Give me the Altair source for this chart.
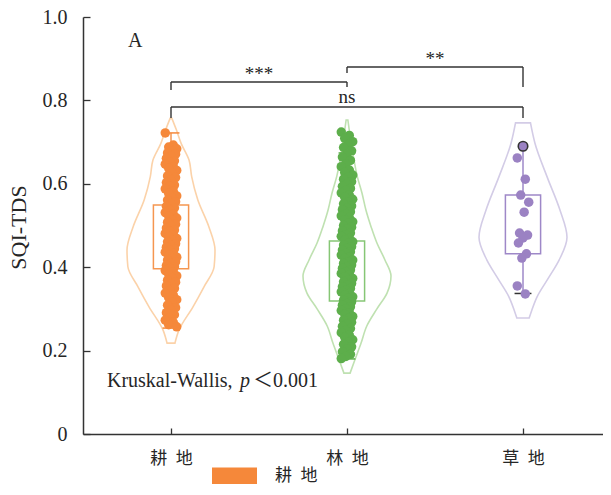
import altair as alt
import pandas as pd

FONT = "Liberation Serif, Noto Sans CJK SC"
INK = "#262626"
LINE = "#333333"
EN = "\u2002"

# ---------------- data ----------------
groups = ["耕地", "林地", "草地"]
centers = [0.5, 1.5, 2.5]

point_colors = ["#F5883A", "#5DAE4B", "#9B82C3"]
violin_colors = ["#FBD2A9", "#BFE1B1", "#D3CCE6"]
box_colors = ["#F59650", "#86C675", "#9E88C8"]
cap_colors = ["#F5883A", "#5DAE4B", "#333333"]

# violin outlines: value levels and relative density (1 = widest)
farm_vlev = [0.218, 0.249, 0.305, 0.353, 0.401, 0.441, 0.497, 0.561, 0.617, 0.657, 0.697, 0.730, 0.757]
farm_dens = [0.09, 0.18, 0.50, 0.75, 0.98, 1.00, 0.86, 0.61, 0.47, 0.41, 0.23, 0.12, 0.02]
forest_vlev = [0.146, 0.178, 0.218, 0.259, 0.300, 0.338, 0.379, 0.418, 0.458, 0.496, 0.537, 0.578,
               0.619, 0.657, 0.700, 0.730, 0.753]
forest_dens = [0.07, 0.18, 0.32, 0.45, 0.68, 0.91, 1.00, 0.86, 0.68, 0.55, 0.43, 0.34,
               0.23, 0.16, 0.09, 0.05, 0.02]
grass_vlev = [0.278, 0.297, 0.329, 0.376, 0.417, 0.472, 0.537, 0.616, 0.698, 0.746]
grass_dens = [0.14, 0.20, 0.32, 0.59, 0.82, 1.00, 0.84, 0.55, 0.27, 0.17]

farm_points = [0.722, 0.693, 0.688, 0.684, 0.679, 0.674, 0.671, 0.666, 0.661, 0.655, 0.652, 0.647,
               0.641, 0.637, 0.632, 0.626, 0.619, 0.615, 0.610, 0.603, 0.597, 0.594, 0.588, 0.582,
               0.577, 0.571, 0.566, 0.561, 0.557, 0.551, 0.546, 0.542, 0.537, 0.531, 0.527, 0.522,
               0.518, 0.512, 0.508, 0.503, 0.499, 0.494, 0.489, 0.486, 0.481, 0.477, 0.473, 0.469,
               0.464, 0.461, 0.456, 0.452, 0.448, 0.444, 0.441, 0.436, 0.433, 0.429, 0.424, 0.421,
               0.417, 0.413, 0.409, 0.404, 0.401, 0.397, 0.392, 0.388, 0.383, 0.379, 0.374, 0.369,
               0.364, 0.359, 0.355, 0.349, 0.344, 0.338, 0.333, 0.327, 0.322, 0.316, 0.309, 0.303,
               0.298, 0.291, 0.286, 0.279, 0.273, 0.268, 0.262, 0.257]
forest_points = [0.724, 0.716, 0.709, 0.701, 0.694, 0.687, 0.679, 0.671, 0.664, 0.656, 0.648, 0.641,
                 0.633, 0.627, 0.621, 0.616, 0.611, 0.605, 0.600, 0.594, 0.589, 0.584, 0.578, 0.573,
                 0.568, 0.563, 0.557, 0.552, 0.547, 0.542, 0.538, 0.533, 0.528, 0.523, 0.519, 0.514,
                 0.509, 0.505, 0.500, 0.496, 0.491, 0.487, 0.482, 0.478, 0.474, 0.469, 0.465, 0.461,
                 0.457, 0.453, 0.449, 0.445, 0.441, 0.437, 0.433, 0.429, 0.425, 0.421, 0.417, 0.413,
                 0.409, 0.405, 0.401, 0.397, 0.393, 0.389, 0.385, 0.381, 0.377, 0.373, 0.369, 0.365,
                 0.361, 0.357, 0.353, 0.349, 0.345, 0.341, 0.337, 0.333, 0.329, 0.325, 0.321, 0.317,
                 0.313, 0.309, 0.305, 0.300, 0.296, 0.291, 0.287, 0.282, 0.277, 0.273, 0.268, 0.263,
                 0.258, 0.253, 0.248, 0.243, 0.237, 0.232, 0.226, 0.221, 0.215, 0.209, 0.203, 0.197,
                 0.191, 0.186, 0.181]
grass_points = [0.662, 0.611, 0.573, 0.556, 0.532, 0.482, 0.477, 0.470, 0.458, 0.432, 0.422,
                0.355, 0.336]
grass_outliers = [0.690]

q1 = [0.396, 0.319, 0.432]
q3 = [0.549, 0.463, 0.573]
w_low = [0.254, 0.180, 0.337]
w_high = [0.722, 0.674, 0.690]
has_top_cap = [True, True, False]

y_ticks = [0, 0.2, 0.4, 0.6, 0.8, 1.0]

br_x1 = [0.5, 1.5, 0.5]
br_x2 = [1.5, 2.5, 2.5]
br_top = [0.844, 0.880, 0.784]
br_left_end = [0.825, 0.866, 0.758]
br_right_end = [0.832, 0.832, 0.758]
br_label = ["***", "**", "ns"]
br_label_y = [0.849, 0.885, 0.794]

kw_parts = ["Kruskal-Wallis,", "p", "＜0.001"]
panel_label = "A"

# ---------------- tables ----------------
violin_src = [(farm_vlev, farm_dens), (forest_vlev, forest_dens), (grass_vlev, grass_dens)]
vrows = []
for g, c, col, (lev, den) in zip(groups, centers, violin_colors, violin_src):
    for v, d in zip(lev, den):
        vrows.append({"group": g, "center": c, "v": v, "d": d, "col": col})
violin_df = pd.DataFrame(vrows)

prow = []
for g, c, vals in zip(groups, centers, [farm_points, forest_points, grass_points]):
    for i, v in enumerate(vals):
        prow.append({"group": g, "center": c, "value": v, "i": i})
points_df = pd.DataFrame(prow)

out_df = pd.DataFrame({"center": [centers[2]] * len(grass_outliers), "value": grass_outliers})

box_df = pd.DataFrame({"group": groups, "center": centers, "q1": q1, "q3": q3,
                       "wlo": w_low, "whi": w_high, "col": box_colors})
crow = []
for c, lo, hi, top, cc in zip(centers, w_low, w_high, has_top_cap, cap_colors):
    crow.append({"center": c, "y": lo, "col": cc})
    if top:
        crow.append({"center": c, "y": hi, "col": cc})
caps_df = pd.DataFrame(crow)

br_df = pd.DataFrame({"x1": br_x1, "x2": br_x2, "top": br_top, "le": br_left_end,
                      "re": br_right_end, "label": br_label, "ly": br_label_y})

# ---------------- scales / axes ----------------
PLOT_W = 520
STEP = 176.0
xscale = alt.Scale(domain=[0, PLOT_W / STEP], nice=False, zero=False)
yscale = alt.Scale(domain=[0, 1], nice=False, zero=False)

x_label_expr = " : ".join(
    [f"datum.value < {c + 0.5} ? '{EN.join(g)}'" for g, c in zip(groups[:-1], centers[:-1])]
    + [f"'{EN.join(groups[-1])}'"]
)

x_main_axis = alt.Axis(values=centers, orient="bottom", labelExpr=x_label_expr, ticks=False,
                       domain=True, domainColor=LINE, domainWidth=1.5, grid=False, title=None,
                       labelFontSize=17, labelPadding=16, labelColor=INK, labelFont=FONT,
                       labelBaseline="top")
x_tick_axis = alt.Axis(values=centers, orient="bottom", offset=-6, tickSize=6, tickColor=LINE,
                       tickWidth=1.3, labels=False, domain=False, grid=False, title=None)
y_main_axis = alt.Axis(values=y_ticks, orient="left",
                       labelExpr="datum.value == 0 ? '0' : format(datum.value, '.1f')",
                       ticks=False, domain=True, domainColor=LINE, domainWidth=1.5, grid=False,
                       labelFontSize=20, labelPadding=16, labelColor=INK, labelFont=FONT,
                       labelBaseline="middle",
                       title="SQI-TDS", titleFontSize=22, titleFontWeight="normal", titleFont=FONT,
                       titleColor=INK, titleAngle=270, titleX=-58, titleY=210,
                       titleBaseline="alphabetic", titleAlign="center")
y_tick_axis = alt.Axis(values=y_ticks, orient="left", offset=-7, tickSize=7, tickColor=LINE,
                       tickWidth=1.3, labels=False, domain=False, grid=False, title=None)

VW = 0.25   # widest violin half-width in x units
BW = 0.1    # box half-width
CW = 0.048  # cap half-width

violin = alt.Chart(violin_df).transform_calculate(
    xl=f"datum.center - datum.d * {VW}", xr=f"datum.center + datum.d * {VW}"
).mark_area(orient="horizontal", interpolate="monotone", fillOpacity=0, strokeWidth=1.6).encode(
    y=alt.Y("v:Q", scale=yscale, axis=y_main_axis),
    x=alt.X("xl:Q", scale=xscale, axis=x_main_axis),
    x2="xr:Q",
    stroke=alt.Stroke("col:N", scale=None),
)

box = alt.Chart(box_df).transform_calculate(
    bl=f"datum.center - {BW}", br=f"datum.center + {BW}"
).mark_rect(fillOpacity=0, strokeWidth=1.5).encode(
    x=alt.X("bl:Q", scale=xscale, axis=x_tick_axis),
    x2="br:Q",
    y=alt.Y("q1:Q", scale=yscale, axis=y_tick_axis),
    y2="q3:Q",
    stroke=alt.Stroke("col:N", scale=None),
)

wlow = alt.Chart(box_df).mark_rule(strokeWidth=1.5).encode(
    x=alt.X("center:Q", scale=xscale, axis=None),
    y=alt.Y("wlo:Q", scale=yscale, axis=None), y2="q1:Q",
    stroke=alt.Stroke("col:N", scale=None),
)
whigh = alt.Chart(box_df).mark_rule(strokeWidth=1.5).encode(
    x=alt.X("center:Q", scale=xscale, axis=None),
    y=alt.Y("q3:Q", scale=yscale, axis=None), y2="whi:Q",
    stroke=alt.Stroke("col:N", scale=None),
)
caps = alt.Chart(caps_df).transform_calculate(
    cl=f"datum.center - {CW}", cr=f"datum.center + {CW}"
).mark_rule(strokeWidth=1.5).encode(
    x=alt.X("cl:Q", scale=xscale, axis=None), x2="cr:Q",
    y=alt.Y("y:Q", scale=yscale, axis=None),
    stroke=alt.Stroke("col:N", scale=None),
)

legend = alt.Legend(title=None, orient="none", legendX=129, legendY=436, direction="horizontal",
                    symbolType="M-1,-0.378H1V0.378H-1Z", symbolSize=2025, symbolStrokeWidth=0,
                    symbolOpacity=1, labelFont=FONT, labelFontSize=17, labelColor=INK,
                    labelOffset=18, columnPadding=290, padding=0,
                    labelExpr=f"join(split(datum.label, ''), '{EN}')")

points = alt.Chart(points_df).transform_calculate(
    xj="datum.center + ((datum.i * 7) % 11 - 5) * 0.0065"
).mark_circle(size=90, opacity=1).encode(
    x=alt.X("xj:Q", scale=xscale, axis=None),
    y=alt.Y("value:Q", scale=yscale, axis=None),
    color=alt.Color("group:N", scale=alt.Scale(domain=groups, range=point_colors), legend=legend),
)

outl = alt.Chart(out_df).mark_circle(size=90, opacity=1, fill=point_colors[2], stroke=LINE,
                                     strokeWidth=1.6).encode(
    x=alt.X("center:Q", scale=xscale, axis=None),
    y=alt.Y("value:Q", scale=yscale, axis=None),
)

br_h = alt.Chart(br_df).mark_rule(color=LINE, strokeWidth=1.4).encode(
    x=alt.X("x1:Q", scale=xscale, axis=None), x2="x2:Q",
    y=alt.Y("top:Q", scale=yscale, axis=None),
)
br_l = alt.Chart(br_df).mark_rule(color=LINE, strokeWidth=1.4).encode(
    x=alt.X("x1:Q", scale=xscale, axis=None),
    y=alt.Y("top:Q", scale=yscale, axis=None), y2="le:Q",
)
br_r = alt.Chart(br_df).mark_rule(color=LINE, strokeWidth=1.4).encode(
    x=alt.X("x2:Q", scale=xscale, axis=None),
    y=alt.Y("top:Q", scale=yscale, axis=None), y2="re:Q",
)
br_t = alt.Chart(br_df).transform_calculate(
    xm="(datum.x1 + datum.x2) / 2"
).mark_text(font=FONT, fontSize=19, color=INK, baseline="alphabetic", align="center").encode(
    x=alt.X("xm:Q", scale=xscale, axis=None),
    y=alt.Y("ly:Q", scale=yscale, axis=None),
    text="label:N",
)

kw_df = pd.DataFrame({"x": [0.136], "y": [0.113]})
kw_base = alt.Chart(kw_df).encode(
    x=alt.X("x:Q", scale=xscale, axis=None), y=alt.Y("y:Q", scale=yscale, axis=None)
)
kw1 = kw_base.mark_text(font=FONT, fontSize=20, color=INK, align="left", baseline="alphabetic",
                        text=kw_parts[0])
kw2 = kw_base.mark_text(font=FONT, fontSize=20, color=INK, align="left", baseline="alphabetic",
                        fontStyle="italic", dx=133, text=kw_parts[1])
kw3 = kw_base.mark_text(font=FONT, fontSize=20, color=INK, align="left", baseline="alphabetic",
                        dx=146, text=kw_parts[2])

a_df = pd.DataFrame({"x": [0.256], "y": [0.928], "t": [panel_label]})
a_text = alt.Chart(a_df).mark_text(font=FONT, fontSize=20, color=INK, align="left",
                                   baseline="alphabetic").encode(
    x=alt.X("x:Q", scale=xscale, axis=None), y=alt.Y("y:Q", scale=yscale, axis=None), text="t:N"
)

chart = alt.layer(
    violin, box, wlow, whigh, caps, points, outl, br_h, br_l, br_r, br_t, kw1, kw2, kw3, a_text
).resolve_axis(x="independent", y="independent").properties(
    width=PLOT_W, height=417,
    padding={"left": 75, "top": 9, "right": 0, "bottom": 50},
    autosize=alt.AutoSizeParams(type="none"),
).configure_view(stroke=None)

chart.save("out.html", embed_options={"renderer": "svg", "actions": False})
